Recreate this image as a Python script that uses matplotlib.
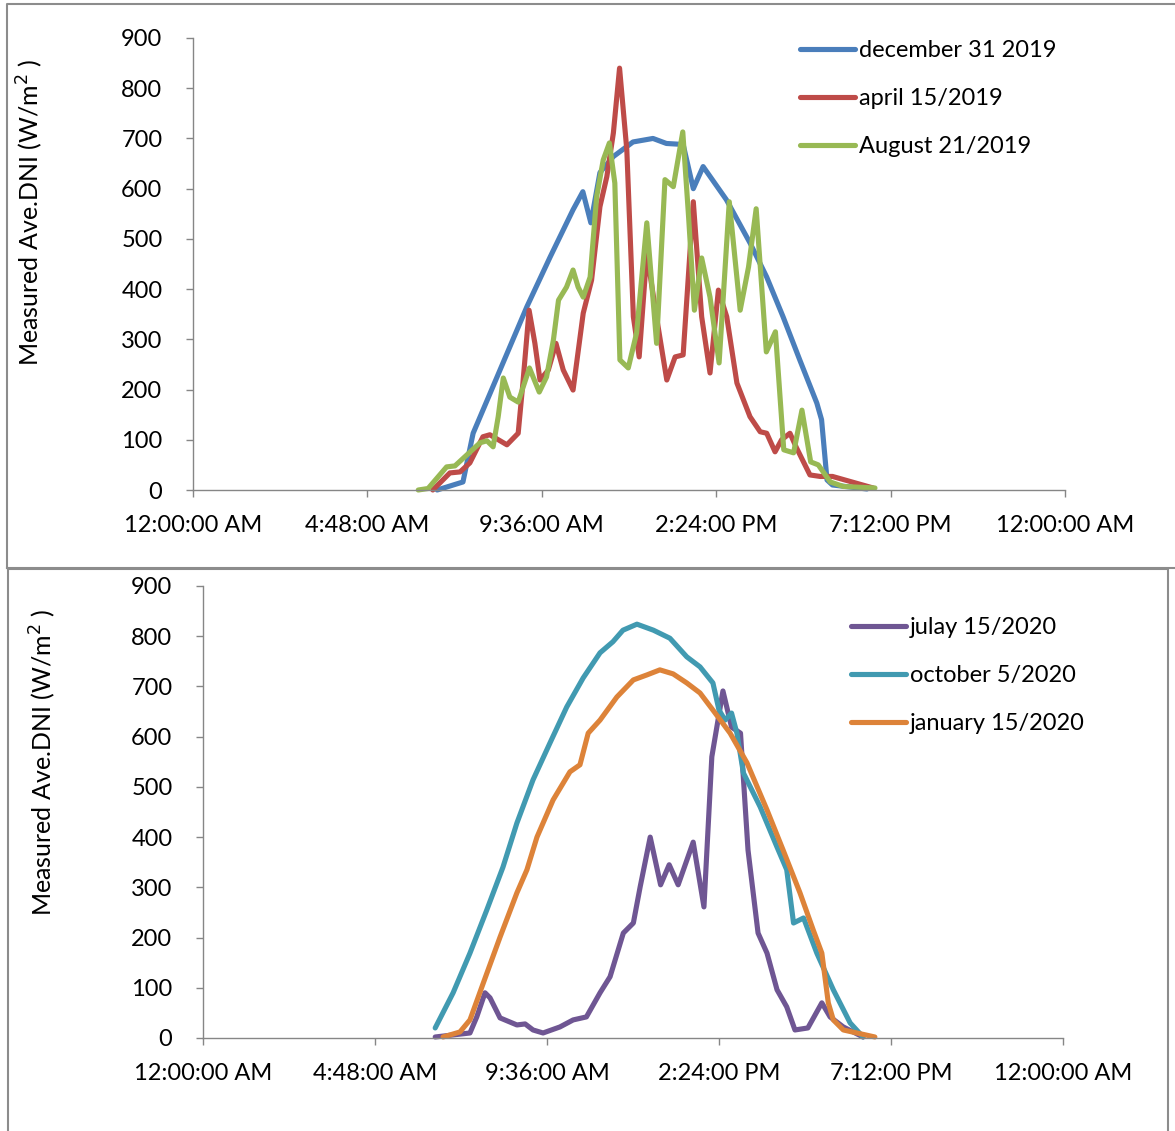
import matplotlib
matplotlib.use("Agg")
import matplotlib.pyplot as plt
from matplotlib.lines import Line2D

plt.rcParams['font.family'] = ['Lato', 'DejaVu Sans']

# ---------------- data (hours of day, W/m2) ----------------
dec_h = [6.72, 7.43, 7.71, 8.45, 9.19, 9.83, 10.46, 10.73, 10.95, 11.2, 11.57, 12.11, 12.66,
         13.03, 13.49, 13.77, 14.04, 14.68, 15.33, 15.79, 16.24, 16.7, 17.17, 17.3, 17.45, 17.6, 18.55]
dec_v = [0, 16, 113, 239, 365, 464, 558, 594, 532, 632, 664, 693, 700,
         690, 688, 600, 644, 578, 492, 424, 345, 259, 173, 140, 20, 10, 2]

apr_h = [6.6, 7.07, 7.35, 7.62, 7.98, 8.17, 8.64, 8.95, 9.08, 9.25, 9.41, 9.55, 9.78, 9.99,
         10.19, 10.46, 10.74, 10.97, 11.2, 11.39, 11.57, 11.74, 11.94, 12.12, 12.28, 12.49,
         12.77, 13.04, 13.27, 13.49, 13.77, 14.0, 14.23, 14.46, 14.69, 14.97, 15.33, 15.61,
         15.79, 16.02, 16.2, 16.43, 16.61, 16.98, 17.26, 17.6, 18.72]
apr_v = [0, 34, 36, 54, 106, 110, 90, 113, 213, 358, 292, 219, 239, 292,
         239, 199, 352, 418, 564, 624, 711, 840, 677, 345, 265, 472,
         339, 219, 265, 269, 574, 345, 233, 398, 345, 213, 146, 116,
         113, 76, 100, 113, 84, 30, 27, 27, 4]

aug_h = [6.2, 6.47, 6.98, 7.21, 7.54, 7.9, 8.09, 8.26, 8.4, 8.54, 8.72, 8.95, 9.26, 9.53,
         9.73, 9.92, 10.06, 10.28, 10.46, 10.6, 10.74, 10.93, 11.11, 11.29, 11.46, 11.61,
         11.75, 11.98, 12.21, 12.49, 12.76, 12.99, 13.22, 13.48, 13.64, 13.8, 14.0, 14.23,
         14.48, 14.76, 15.06, 15.29, 15.5, 15.78, 16.03, 16.26, 16.53, 16.76, 17.0, 17.21,
         17.54, 17.9, 18.77]
aug_v = [0, 3, 46, 48, 70, 94, 98, 86, 146, 223, 185, 175, 243, 195,
         225, 299, 378, 404, 438, 404, 384, 424, 584, 657, 691, 611,
         259, 243, 313, 532, 292, 618, 604, 713, 544, 358, 462, 384,
         253, 574, 358, 444, 560, 275, 315, 80, 74, 159, 56, 50,
         16, 7, 4]

jul_h = [6.48, 7.45, 7.64, 7.87, 8.01, 8.29, 8.76, 8.99, 9.21, 9.49, 9.96, 10.33, 10.7,
         11.08, 11.36, 11.73, 12.01, 12.2, 12.48, 12.77, 13.01, 13.26, 13.68, 13.98, 14.2,
         14.51, 14.75, 15.0, 15.21, 15.49, 15.74, 16.02, 16.29, 16.52, 16.88, 17.27, 17.5,
         17.87, 18.42]
jul_v = [2, 10, 42, 90, 80, 40, 26, 28, 16, 10, 22, 36, 42,
         90, 122, 209, 229, 301, 400, 305, 345, 305, 390, 261, 560,
         691, 619, 607, 374, 209, 169, 96, 62, 16, 20, 70, 42,
         22, 2]

oct_h = [6.48, 6.98, 7.45, 7.92, 8.37, 8.76, 9.21, 9.68, 10.15, 10.61, 11.08, 11.44, 11.72,
         12.11, 12.57, 13.03, 13.5, 13.87, 14.23, 14.4, 14.57, 14.75, 14.9, 15.08, 15.55,
         16.02, 16.29, 16.48, 16.76, 17.13, 17.59, 18.06, 18.42]
oct_v = [20, 90, 169, 255, 340, 428, 514, 587, 659, 717, 767, 789, 812,
         824, 812, 796, 759, 739, 707, 653, 633, 647, 607, 528, 460,
         380, 335, 229, 239, 169, 96, 30, 2]

jan_h = [6.7, 7.17, 7.45, 7.82, 8.29, 8.76, 9.04, 9.32, 9.77, 10.24, 10.52, 10.75, 11.08,
         11.55, 12.01, 12.39, 12.75, 13.12, 13.5, 13.87, 14.23, 14.71, 15.18, 15.74, 16.19,
         16.66, 17.03, 17.27, 17.45, 17.59, 17.87, 18.75]
jan_v = [2, 12, 36, 109, 201, 289, 335, 400, 474, 530, 544, 607, 633,
         679, 713, 723, 733, 725, 707, 687, 653, 607, 548, 454, 374,
         289, 215, 169, 70, 36, 16, 2]

xtick_pos = [0, 4.8, 9.6, 14.4, 19.2, 24]
xtick_labels = ["12:00:00 AM", "4:48:00 AM", "9:36:00 AM", "2:24:00 PM", "7:12:00 PM", "12:00:00 AM"]
ytick_pos = [0, 100, 200, 300, 400, 500, 600, 700, 800, 900]

top_series = [("december 31 2019", dec_h, dec_v, "#4A7EBB"),
              ("april 15/2019", apr_h, apr_v, "#BE4B48"),
              ("August 21/2019", aug_h, aug_v, "#98B954")]
bot_series = [("julay 15/2020", jul_h, jul_v, "#6F5693"),
              ("october 5/2020", oct_h, oct_v, "#419AB1"),
              ("january 15/2020", jan_h, jan_v, "#DD8339")]

W, H = 1175, 1131
fig = plt.figure(figsize=(W / 100, H / 100), dpi=100)
fig.patch.set_facecolor("white")

GREY = "#868686"

def px_rect(l, t, r, b):
    return [l / W, 1 - b / H, (r - l) / W, (b - t) / H]

def frame(l, t, r, b):
    xs = [l / W, l / W, r / W, r / W, l / W]
    ys = [1 - b / H, 1 - t / H, 1 - t / H, 1 - b / H, 1 - b / H]
    fig.add_artist(Line2D(xs, ys, color="#8C8C8C", lw=1.5, transform=fig.transFigure))

frame(7, 4, 1178, 568)
frame(8, 569, 1168, 1140)

def setup(ax, series, leg_anchor, ylab_x, ylab_y):
    for name, h, v, c in series:
        ax.plot(h, v, color=c, lw=3.7, label=name, solid_capstyle="round",
                solid_joinstyle="round")
    ax.set_xlim(0, 24)
    ax.set_ylim(0, 900)
    ax.set_xticks(xtick_pos)
    ax.set_xticklabels(xtick_labels)
    ax.set_yticks(ytick_pos)
    for s in ["top", "right"]:
        ax.spines[s].set_visible(False)
    for s in ["left", "bottom"]:
        ax.spines[s].set_color(GREY)
        ax.spines[s].set_linewidth(1.0)
    ax.tick_params(axis="both", colors=GREY, labelcolor="black", labelsize=17,
                   length=5, width=1.0, direction="out")
    ax.tick_params(axis="x", pad=13)
    ax.tick_params(axis="y", pad=17)
    for ln in ax.lines:
        ln.set_clip_on(False)
    fig.text(ylab_x / W, 1 - ylab_y / H, "Measured Ave.DNI (W/m$^{2}$ )", rotation=90,
             ha="center", va="center", fontsize=18)
    leg = ax.legend(loc="upper left", bbox_to_anchor=(leg_anchor[0] / W, 1 - leg_anchor[1] / H),
                    bbox_transform=fig.transFigure, frameon=False, fontsize=17,
                    handlelength=2.35, handletextpad=0.15, labelspacing=1.15,
                    borderpad=0, borderaxespad=0)
    for lh in leg.get_lines():
        lh.set_linewidth(3.7)
        lh.set_solid_capstyle("round")

ax1 = fig.add_axes(px_rect(193, 38, 1065, 490))
setup(ax1, top_series, (800, 40), 30, 212)

ax2 = fig.add_axes(px_rect(203, 586, 1063, 1038))
setup(ax2, bot_series, (851, 617), 43, 762)

fig.savefig("out.png", dpi=100, facecolor="white")
